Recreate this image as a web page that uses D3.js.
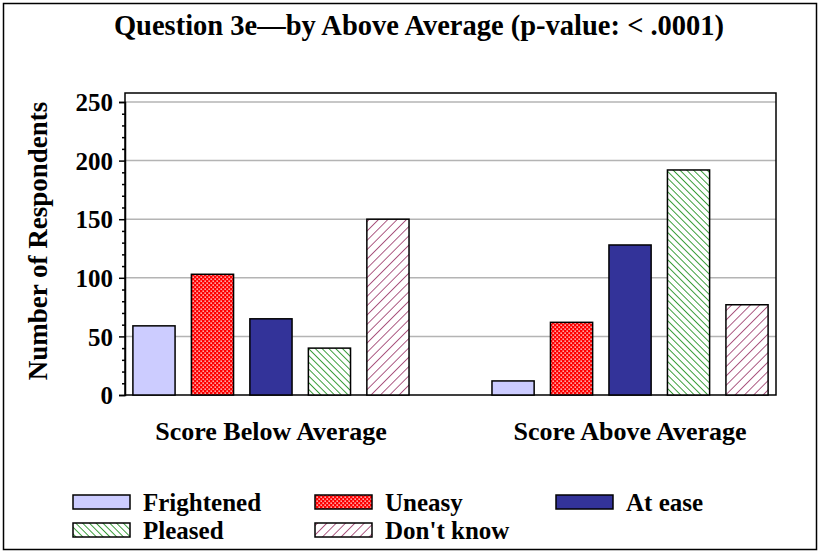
<!DOCTYPE html>
<html>
<head>
<meta charset="utf-8">
<script src="https://cdn.jsdelivr.net/npm/d3@7"></script>
<style>
  html, body { margin: 0; padding: 0; background: #fff; }
  svg { display: block; }
  text { font-family: "Liberation Serif", "Times New Roman", serif; font-weight: bold; fill: #000; }
</style>
</head>
<body>
<svg id="chart" width="820" height="551"></svg>
<script>
// Respondent counts per answer, split by score group
const groups = ["Score Below Average", "Score Above Average"];
const seriesNames = ["Frightened", "Uneasy", "At ease", "Pleased", "Don't know"];
const frightened = [59, 12];
const uneasy = [103, 62];
const atEase = [65, 128];
const pleased = [40, 192];
const dontKnow = [150, 77];
const yTicks = [0, 50, 100, 150, 200, 250];
const titleText = "Question 3e\u2014by Above Average (p-value: < .0001)";
const yLabel = "Number of Respondents";

const seriesValues = [frightened, uneasy, atEase, pleased, dontKnow];
const fills = ["#CCCCFF", "url(#pUneasy)", "#333399", "url(#pPleased)", "url(#pDontKnow)"];

const svg = d3.select("#chart");
const W = 820, H = 551;
const plot = { left: 125, right: 776, top: 93, bottom: 395 };

// Hatch / checker fills
const defs = svg.append("defs");
const pu = defs.append("pattern").attr("id", "pUneasy")
  .attr("patternUnits", "userSpaceOnUse").attr("width", 4).attr("height", 4);
pu.append("rect").attr("width", 4).attr("height", 4).attr("fill", "#FF0000");
pu.append("rect").attr("x", 0.5).attr("y", 0.5).attr("width", 1.3).attr("height", 1.3).attr("fill", "#fff");
pu.append("rect").attr("x", 2.5).attr("y", 2.5).attr("width", 1.3).attr("height", 1.3).attr("fill", "#fff");

// Pleased: lines running top-left to bottom-right
const pp = defs.append("pattern").attr("id", "pPleased")
  .attr("patternUnits", "userSpaceOnUse").attr("width", 4.8).attr("height", 4.8)
  .attr("patternTransform", "rotate(-45)");
pp.append("rect").attr("width", 4.8).attr("height", 4.8).attr("fill", "#fff");
pp.append("line").attr("x1", 0).attr("y1", 0).attr("x2", 0).attr("y2", 4.8)
  .attr("stroke", "#008000").attr("stroke-width", 1.5);

// Don't know: lines running bottom-left to top-right
const pd = defs.append("pattern").attr("id", "pDontKnow")
  .attr("patternUnits", "userSpaceOnUse").attr("width", 6.6).attr("height", 6.6)
  .attr("patternTransform", "rotate(45)");
pd.append("rect").attr("width", 6.6).attr("height", 6.6).attr("fill", "#fff");
pd.append("line").attr("x1", 0).attr("y1", 0).attr("x2", 0).attr("y2", 6.6)
  .attr("stroke", "#993366").attr("stroke-width", 1.6);

// Outer border
svg.append("rect").attr("x", 3.5).attr("y", 3.5).attr("width", W - 7).attr("height", H - 5)
  .attr("fill", "none").attr("stroke", "#000").attr("stroke-width", 1.5);

// Title
svg.append("text").attr("x", 419).attr("y", 35).attr("text-anchor", "middle")
  .attr("font-size", 28.5).text(titleText);

// Scales
const y = d3.scaleLinear().domain([0, 250]).range([plot.bottom, 102]);
const x0 = d3.scaleBand().domain(groups).range([plot.left, plot.right])
  .paddingInner(0.231).paddingOuter(0.022);
const x1 = d3.scaleBand().domain(seriesNames).range([0, x0.bandwidth()])
  .paddingInner(0.279).paddingOuter(0);

// Gridlines
svg.append("g").selectAll("line").data(yTicks.filter(d => d > 0)).join("line")
  .attr("x1", plot.left).attr("x2", plot.right)
  .attr("y1", d => y(d)).attr("y2", d => y(d))
  .attr("stroke", "#B4B4B4").attr("stroke-width", 1.5);

// Plot frame
svg.append("rect").attr("x", plot.left).attr("y", plot.top)
  .attr("width", plot.right - plot.left).attr("height", plot.bottom - plot.top)
  .attr("fill", "none").attr("stroke", "#000").attr("stroke-width", 1.5);

// Bars
const gBars = svg.append("g");
groups.forEach((g, gi) => {
  seriesNames.forEach((s, si) => {
    const v = seriesValues[si][gi];
    gBars.append("rect")
      .attr("x", x0(g) + x1(s)).attr("y", y(v))
      .attr("width", x1.bandwidth()).attr("height", y(0) - y(v))
      .attr("fill", fills[si]).attr("stroke", "#000").attr("stroke-width", 1.5);
  });
});

// Y axis: major ticks with labels, minor ticks every 10
const yAxis = d3.axisLeft(y).tickValues(yTicks).tickSize(6).tickPadding(6).tickFormat(d3.format("d"));
const gy = svg.append("g").attr("transform", `translate(${plot.left},0)`).call(yAxis);
gy.select(".domain").attr("stroke", "#000").attr("stroke-width", 1.5);
gy.selectAll(".tick line").attr("stroke", "#000").attr("stroke-width", 1.5);
gy.selectAll(".tick text").attr("font-size", 25).attr("font-family", "Liberation Serif, serif")
  .attr("font-weight", "bold").attr("fill", "#000").attr("dy", "0.35em");
const minor = d3.range(10, 251, 10).filter(d => d % 50 !== 0);
const yMinor = d3.axisLeft(y).tickValues(minor).tickSize(3).tickFormat("");
const gm = svg.append("g").attr("transform", `translate(${plot.left},0)`).call(yMinor);
gm.select(".domain").remove();
gm.selectAll(".tick line").attr("stroke", "#000").attr("stroke-width", 1.5);

// Y axis title
svg.append("text").attr("transform", `translate(47,${(plot.top + plot.bottom) / 2 - 3}) rotate(-90)`)
  .attr("text-anchor", "middle").attr("font-size", 27).text(yLabel);

// Category labels
svg.append("g").selectAll("text").data(groups).join("text")
  .attr("x", d => x0(d) + x0.bandwidth() / 2).attr("y", 440)
  .attr("text-anchor", "middle").attr("font-size", 26).text(d => d);

// Legend
const legendPos = [
  { x: 73, y: 495 }, { x: 315, y: 495 }, { x: 556, y: 495 },
  { x: 73, y: 523 }, { x: 315, y: 523 }
];
const lg = svg.append("g");
seriesNames.forEach((s, i) => {
  const p = legendPos[i];
  lg.append("rect").attr("x", p.x).attr("y", p.y).attr("width", 57).attr("height", 14)
    .attr("fill", fills[i]).attr("stroke", "#000").attr("stroke-width", 1.5);
  lg.append("text").attr("x", p.x + 70).attr("y", p.y + 16).attr("font-size", 25).text(s);
});
</script>
</body>
</html>
